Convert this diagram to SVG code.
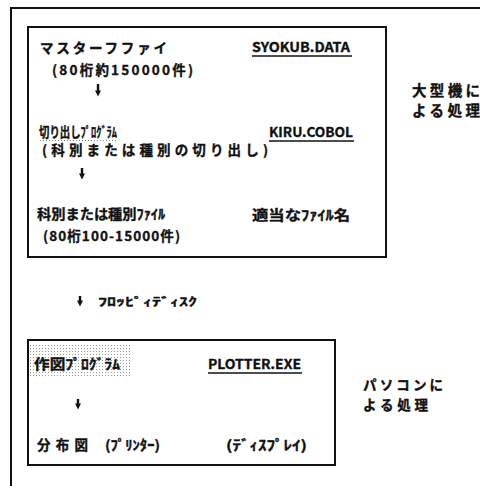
<svg xmlns="http://www.w3.org/2000/svg" width="480" height="486" viewBox="0 0 480 486">
<style>
text{font-family:"Noto Sans CJK JP","Noto Sans",sans-serif;font-weight:700;fill:#111;stroke:#111;stroke-width:0.35;}
.t{font-size:13.5px;}
.s{font-size:11.5px;}
.box{fill:none;stroke:#111;stroke-width:2;}
.ul{stroke:#111;stroke-width:1.6;}
.arr{stroke:#111;stroke-width:2.4;fill:none;}
</style>
<defs>
<marker id="ah" viewBox="0 0 10 10" refX="1" refY="5" markerWidth="2.6" markerHeight="2.6" orient="auto" markerUnits="strokeWidth">
<path d="M0,0 L10,5 L0,10 Z" fill="#111"/>
</marker>
<pattern id="dots" width="3" height="3" patternUnits="userSpaceOnUse">
<rect x="0" y="0" width="1" height="1" fill="#999"/>
</pattern>
</defs>
<rect width="480" height="486" fill="#fff"/>
<g id="frame">
<path d="M11,487 L11,8 L481,8" class="box"/>
</g>
<g id="mainframe">
<rect x="28" y="27" width="358" height="230" class="box"/>
<text class="t" x="40" y="53" textLength="127" lengthAdjust="spacing">マスターフファイ</text>
<text class="t" x="52" y="75" textLength="141" lengthAdjust="spacing">(80桁約150000件)</text>
<text class="t" x="252" y="52" textLength="98" lengthAdjust="spacingAndGlyphs">SYOKUB.DATA</text>
<line x1="252" y1="56" x2="352" y2="56" class="ul"/>
<text class="t" x="39" y="137" textLength="78" lengthAdjust="spacingAndGlyphs">切り出しﾌﾟﾛｸﾞﾗﾑ</text>
<line x1="40" y1="140.5" x2="117" y2="140.5" stroke="#888" stroke-width="1" stroke-dasharray="1 2"/>
<text class="t" x="42" y="155" textLength="226" lengthAdjust="spacing">(科別または種別の切り出し)</text>
<text class="t" x="269" y="137" textLength="84" lengthAdjust="spacingAndGlyphs">KIRU.COBOL</text>
<line x1="269" y1="141" x2="354" y2="141" class="ul"/>
<text class="t" x="37" y="219" textLength="128" lengthAdjust="spacingAndGlyphs">科別または種別ﾌｧｲﾙ</text>
<text class="t" x="252" y="220" textLength="98" lengthAdjust="spacingAndGlyphs">適当なﾌｧｲﾙ名</text>
<text class="t" x="43" y="241" textLength="137" lengthAdjust="spacing">(80桁100-15000件)</text>
</g>
<g id="label-mainframe">
<text x="412" y="96" font-size="14.5" textLength="68" lengthAdjust="spacing">大型機に</text>
<text x="412" y="116" font-size="14.5" textLength="68" lengthAdjust="spacing">よる処理</text>
</g>
<g id="floppy">
<text class="s" x="98" y="306" textLength="99" lengthAdjust="spacingAndGlyphs">ﾌﾛｯﾋﾟｨﾃﾞｨｽｸ</text>
</g>
<g id="pc">
<rect x="28" y="340" width="307" height="125" class="box"/>
<rect x="30" y="343" width="100" height="33" fill="url(#dots)"/>
<text class="t" x="34" y="369" textLength="86" lengthAdjust="spacingAndGlyphs">作図ﾌﾟﾛｸﾞﾗﾑ</text>
<text class="t" x="208" y="369" textLength="93" lengthAdjust="spacingAndGlyphs">PLOTTER.EXE</text>
<line x1="208" y1="373" x2="302" y2="373" class="ul"/>
<text class="t" x="37" y="450" textLength="51" lengthAdjust="spacing">分布図</text>
<text class="t" x="105" y="450" textLength="55" lengthAdjust="spacingAndGlyphs">(ﾌﾟﾘﾝﾀｰ)</text>
<text class="t" x="226" y="450" textLength="81" lengthAdjust="spacingAndGlyphs">(ﾃﾞｨｽﾌﾟﾚｲ)</text>
</g>
<g id="label-pc">
<text x="363" y="390" font-size="13.5" textLength="80" lengthAdjust="spacing">パソコンに</text>
<text x="363" y="410" font-size="13.5" textLength="65" lengthAdjust="spacing">よる処理</text>
</g>
<g id="connectors">
<line x1="98" y1="84" x2="98" y2="91" class="arr" marker-end="url(#ah)"/>
<line x1="82" y1="168" x2="82" y2="174" class="arr" marker-end="url(#ah)"/>
<line x1="80" y1="296" x2="80" y2="301" class="arr" marker-end="url(#ah)"/>
<line x1="78" y1="399" x2="78" y2="404" class="arr" marker-end="url(#ah)"/>
</g>
</svg>
